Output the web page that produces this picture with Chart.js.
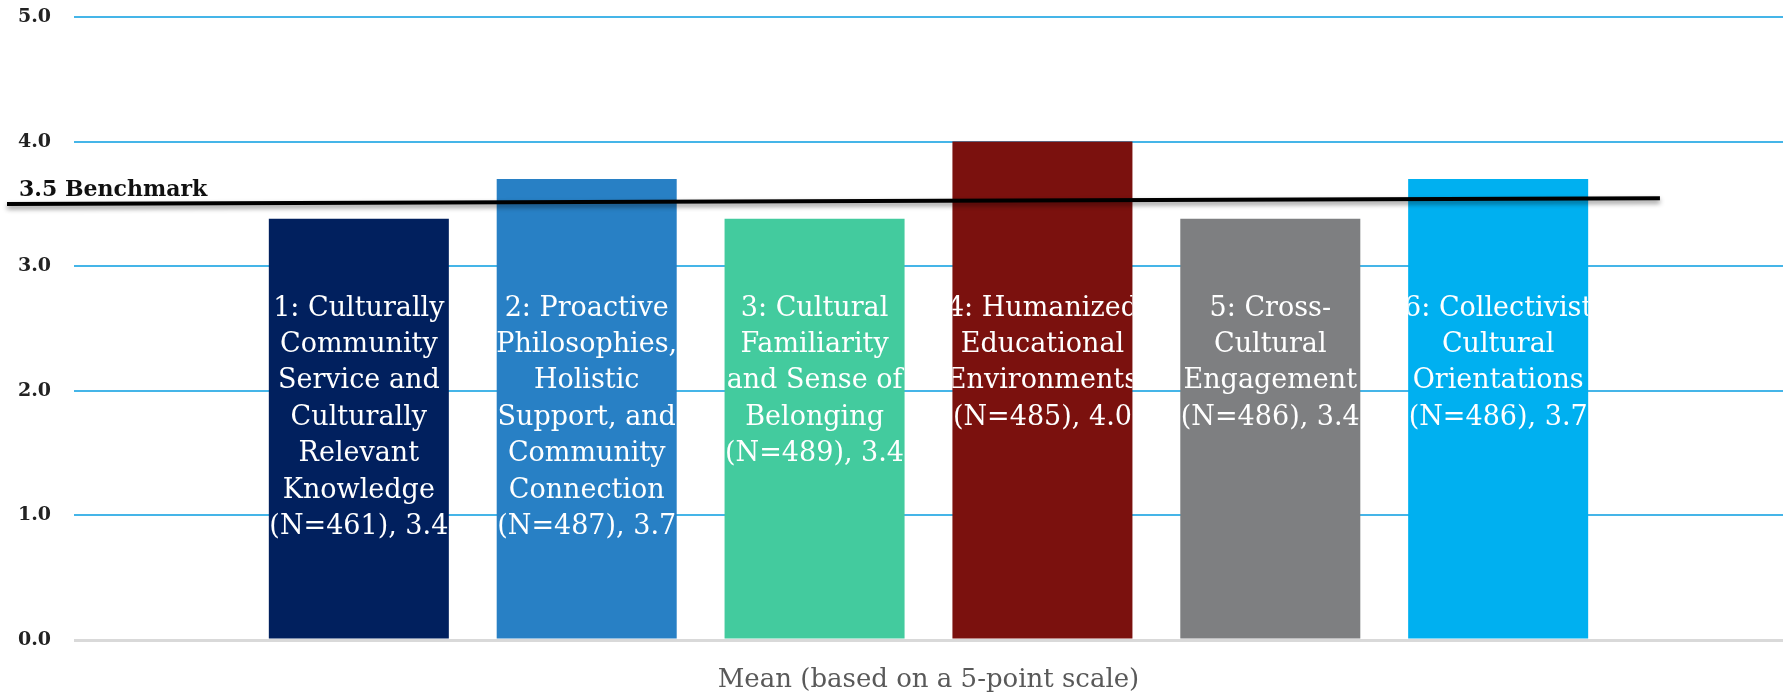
<!DOCTYPE html>
<html>
<head>
<meta charset="utf-8">
<script src="https://cdn.jsdelivr.net/npm/chart.js@4.4.1/dist/chart.umd.min.js"></script>
<style>
  html, body { margin: 0; padding: 0; background: #ffffff; }
  #wrap { width: 1789px; height: 693px; position: relative; }
</style>
</head>
<body>
<div id="wrap"><canvas id="chart"></canvas></div>
<script>
// Dados
const categoryLabels = ['Mean (based on a 5-point scale)'];
const factorNames = [
  ['1: Culturally', 'Community', 'Service and', 'Culturally', 'Relevant', 'Knowledge', '(N=461), 3.4'],
  ['2: Proactive', 'Philosophies,', 'Holistic', 'Support, and', 'Community', 'Connection', '(N=487), 3.7'],
  ['3: Cultural', 'Familiarity', 'and Sense of', 'Belonging', '(N=489), 3.4'],
  ['4: Humanized', 'Educational', 'Environments', '(N=485), 4.0'],
  ['5: Cross-', 'Cultural', 'Engagement', '(N=486), 3.4'],
  ['6: Collectivist', 'Cultural', 'Orientations', '(N=486), 3.7']
];
const factorMeans = [3.38, 3.70, 3.38, 4.00, 3.38, 3.70];
const yTickValues = [0, 1, 2, 3, 4, 5];
const benchmarkLabel = '3.5 Benchmark';
const benchmarkY = [3.5, 3.545];   // valor no início e no fim da linha desenhada
const labelTopValue = 2.66;

// Cores
const BAR_COLORS = ['#01205e', '#2880c5', '#43cb9e', '#7b110e', '#7e7f81', '#00b0f0'];
const GRID_COLOR = '#45b5e8';
const FONT = '"DejaVu Serif", serif';

// Rótulos brancos dentro das barras (recortados na largura da barra)
const barLabelsPlugin = {
  id: 'barLabels',
  afterDatasetsDraw(chart) {
    const ctx = chart.ctx;
    const y = chart.scales.y;
    factorNames.forEach((lines, i) => {
      const bar = chart.getDatasetMeta(i).data[0];
      if (!bar) return;
      const left = bar.x - bar.width / 2;
      ctx.save();
      ctx.beginPath();
      ctx.rect(left, bar.y, bar.width, bar.base - bar.y);
      ctx.clip();
      ctx.fillStyle = '#ffffff';
      ctx.font = '27px ' + FONT;
      ctx.textAlign = 'center';
      ctx.textBaseline = 'middle';
      const top = y.getPixelForValue(labelTopValue);
      lines.forEach((t, k) => ctx.fillText(t, bar.x, top + k * 36.4));
      ctx.restore();
    });
  }
};

// Linha de referência (desenhada à mão no original, ligeiramente inclinada)
const benchmarkPlugin = {
  id: 'benchmark',
  afterDatasetsDraw(chart) {
    const ctx = chart.ctx;
    const area = chart.chartArea;
    const y = chart.scales.y;
    const x1 = area.left - 67;
    const x2 = area.left + (area.right - area.left) * 0.928;
    const y1 = y.getPixelForValue(benchmarkY[0]);
    const y2 = y.getPixelForValue(benchmarkY[1]);
    ctx.save();
    ctx.shadowColor = 'rgba(0,0,0,0.45)';
    ctx.shadowBlur = 5;
    ctx.shadowOffsetY = 3;
    ctx.strokeStyle = '#000000';
    ctx.lineWidth = 4;
    ctx.beginPath();
    ctx.moveTo(x1, y1);
    ctx.lineTo(x2, y2);
    ctx.stroke();
    ctx.restore();

    ctx.save();
    ctx.fillStyle = '#111111';
    ctx.font = 'bold 22px ' + FONT;
    ctx.textAlign = 'left';
    ctx.textBaseline = 'alphabetic';
    ctx.fillText(benchmarkLabel, x1 + 12, y1 - 8);
    ctx.restore();
  }
};

const datasets = factorMeans.map((v, i) => ({
  label: factorNames[i].join(' '),
  data: [v],
  backgroundColor: BAR_COLORS[i],
  borderWidth: 0,
  categoryPercentage: 0.8,
  barPercentage: 0.79
}));

new Chart(document.getElementById('chart'), {
  type: 'bar',
  data: { labels: categoryLabels, datasets: datasets },
  options: {
    responsive: true,
    maintainAspectRatio: false,
    animation: false,
    layout: { padding: { left: 18, right: 6, top: 17, bottom: 0 } },
    plugins: {
      legend: { display: false },
      tooltip: { enabled: false }
    },
    scales: {
      x: {
        grid: { display: false, drawTicks: false },
        border: { display: false },
        ticks: {
          color: '#595959',
          font: { family: FONT, size: 26 },
          padding: 25
        },
        afterFit(scale) { scale.height = 53; }
      },
      y: {
        min: 0,
        max: 5,
        afterBuildTicks(scale) { scale.ticks = yTickValues.map(v => ({ value: v })); },
        afterFit(scale) { scale.width = 56; },
        border: { display: false },
        grid: {
          drawTicks: false,
          color: ctx => ctx.tick && ctx.tick.value === 0 ? '#d9d9d9' : GRID_COLOR,
          lineWidth: ctx => ctx.tick && ctx.tick.value === 0 ? 3 : 2
        },
        ticks: {
          color: '#222222',
          crossAlign: 'far',
          padding: 0,
          font: { family: FONT, size: 19, weight: 'bold' },
          callback: v => v.toFixed(1)
        }
      }
    }
  },
  plugins: [barLabelsPlugin, benchmarkPlugin]
});
</script>
</body>
</html>
